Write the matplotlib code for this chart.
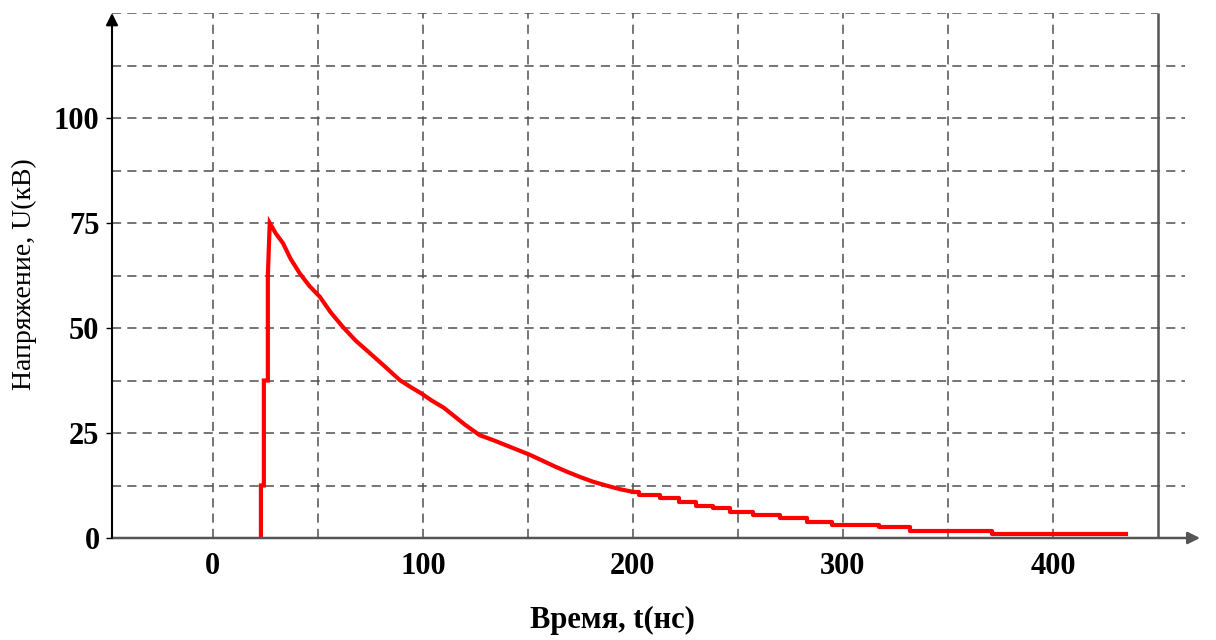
import numpy as np
import matplotlib
matplotlib.use('Agg')
import matplotlib.pyplot as plt

# Pulse: time (ns) and voltage (kV)
t_ns = [22.9, 22.9, 24.3, 24.3, 26.2, 26.2, 27.1, 30, 33.4, 37, 41.4, 46, 51, 56,
        62, 68, 74.8, 82, 89, 94, 99, 104, 110, 113, 120, 127, 134, 140, 145,
        151, 157, 163, 169, 175, 181, 188, 194, 200]
u_kv = [0, 12.5, 12.5, 37.5, 37.5, 62.5, 75, 72.5, 70.2, 66.5, 63, 60, 57.4, 53.8,
        50.2, 47, 44, 40.8, 37.6, 36, 34.5, 32.8, 31, 29.8, 27, 24.5, 23.2, 22, 21,
        19.8, 18.4, 17, 15.7, 14.5, 13.4, 12.4, 11.6, 11]

# stair-stepped tail
tail_t = [200, 203, 213, 222, 230, 238, 246, 257, 270, 283, 295, 317, 332, 371, 435]
tail_u = [11, 10.3, 9.5, 8.6, 7.6, 7.1, 6.2, 5.5, 4.8, 3.9, 3.1, 2.6, 1.7, 0.9, 0.9]

x_ticks = [0, 100, 200, 300, 400]
y_ticks = [0, 25, 50, 75, 100]
x_grid = [0, 50, 100, 150, 200, 250, 300, 350, 400]
y_grid = [12.5, 25, 37.5, 50, 62.5, 75, 87.5, 100, 112.5]

serif = ['Liberation Serif', 'DejaVu Serif']
grid_kw = dict(color='#505050', lw=1.1, linestyles=(0, (6, 4)), zorder=1)

fig = plt.figure(figsize=(12.16, 6.4), dpi=100)
ax = fig.add_axes([112 / 1216, 102 / 640, 1088 / 1216, 525 / 640])
ax.set_xlim(-48, 470)
ax.set_ylim(0, 125)

# grid
ax.hlines(y_grid, -48, 463, **grid_kw)
ax.hlines([125], -48, 450, **grid_kw)
ax.vlines(x_grid, 0, 125, **grid_kw)
ax.vlines([450], 0, 125, color='#555555', lw=1.8, zorder=2)

# curve
ax.plot(t_ns, u_kv, color='red', lw=3, zorder=3, solid_joinstyle='miter')
ax.plot(tail_t, tail_u, color='red', lw=3, drawstyle='steps-post', zorder=3)

# axes with arrows
for s in ax.spines.values():
    s.set_visible(False)
ax.annotate('', xy=(1, 0), xytext=(0, 0), xycoords='axes fraction',
            arrowprops=dict(arrowstyle='-|>', color='#555555', lw=1.8,
                            mutation_scale=18, shrinkA=0, shrinkB=0))
ax.annotate('', xy=(0, 1), xytext=(0, 0), xycoords='axes fraction',
            arrowprops=dict(arrowstyle='-|>', color='black', lw=1.5,
                            mutation_scale=18, shrinkA=0, shrinkB=0))

ax.set_xticks(x_ticks)
ax.set_xticklabels([str(v) for v in x_ticks], family=serif, fontsize=22, fontweight='bold')
ax.set_yticks(y_ticks)
ax.set_yticklabels([str(v) for v in y_ticks], family=serif, fontsize=22, fontweight='bold')
ax.tick_params(axis='x', length=0, pad=10)
ax.tick_params(axis='y', length=4, width=1, pad=5)

ax.set_xlabel('Время, t(нс)', family=serif, fontsize=22, fontweight='bold')
ax.xaxis.set_label_coords((612 - 112) / 1088, -0.13)
ax.set_ylabel('Напряжение, U(кВ)', family=serif, fontsize=20)
ax.yaxis.set_label_coords(-0.069, 0.503)

fig.savefig('out.png', dpi=100)
